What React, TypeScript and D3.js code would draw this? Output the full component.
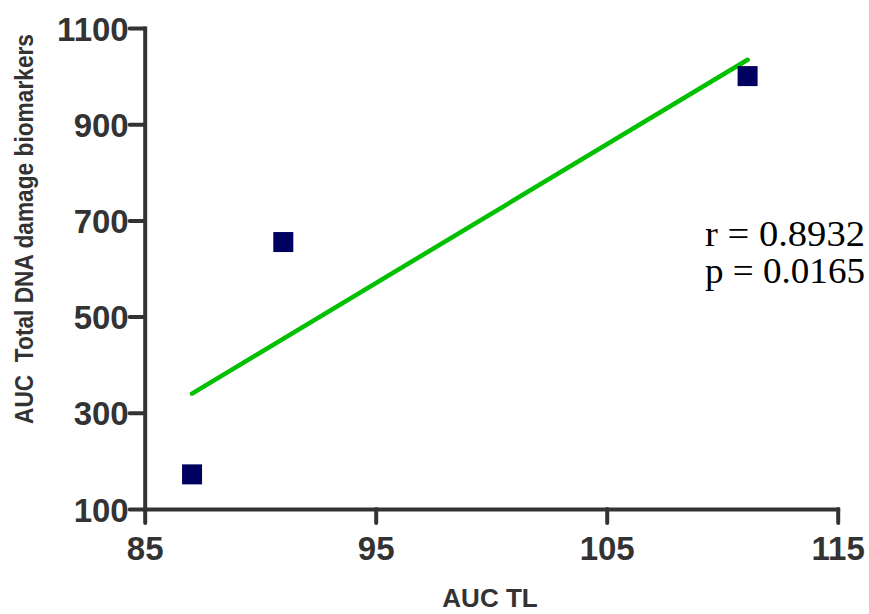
import React, { useEffect, useRef } from "react";
import * as d3 from "d3";

// data
const aucTL = [87.05, 91.0, 111.1];
const aucDNA = [172, 655, 1000];
const fitX = [87.05, 111.1];
const fitY = [340, 1034];
const xTicks = [85, 95, 105, 115];
const yTicks = [100, 300, 500, 700, 900, 1100];
const statLines = ["r = 0.8932", "p = 0.0165"];

const W = 869;
const H = 614;
const axisColor = "#333333";

const App = () => {
  const ref = useRef<SVGSVGElement>(null);

  useEffect(() => {
    const svg = d3.select(ref.current);
    svg.selectAll("*").remove();

    const x = d3.scaleLinear().domain([85, 115]).range([144.7, 837.7]);
    const y = d3.scaleLinear().domain([100, 1100]).range([509, 28]);

    // x axis
    const gx = svg
      .append("g")
      .attr("transform", `translate(0,${y(100)})`)
      .call(
        d3.axisBottom(x).tickValues(xTicks).tickFormat(d3.format("d")).tickSize(14).tickSizeOuter(0)
      );
    gx.select(".domain").attr("stroke", axisColor).attr("stroke-width", 4).attr("stroke-linecap", "square");
    gx.selectAll(".tick line").attr("stroke", axisColor).attr("stroke-width", 4).attr("stroke-linecap", "round");
    gx.selectAll(".tick text")
      .attr("fill", axisColor)
      .attr("dy", null)
      .attr("y", 51)
      .style("font-family", "'Liberation Sans', Arial, sans-serif")
      .style("font-weight", "bold")
      .style("font-size", "33px");

    // y axis
    const gy = svg
      .append("g")
      .attr("transform", `translate(${x(85)},0)`)
      .call(
        d3.axisLeft(y).tickValues(yTicks).tickFormat(d3.format("d")).tickSize(15).tickSizeOuter(0)
      );
    gy.select(".domain").attr("stroke", axisColor).attr("stroke-width", 4).attr("stroke-linecap", "square");
    gy.selectAll(".tick line").attr("stroke", axisColor).attr("stroke-width", 4).attr("stroke-linecap", "round");
    gy.selectAll(".tick text")
      .attr("fill", axisColor)
      .attr("x", -16)
      .attr("dy", null)
      .attr("y", 12)
      .style("font-family", "'Liberation Sans', Arial, sans-serif")
      .style("font-weight", "bold")
      .style("font-size", "33px");

    // axis titles
    svg
      .append("text")
      .attr("x", 490)
      .attr("y", 607)
      .attr("text-anchor", "middle")
      .attr("fill", axisColor)
      .style("font-family", "'Liberation Sans', Arial, sans-serif")
      .style("font-weight", "bold")
      .style("font-size", "26px")
      .text("AUC TL");

    svg
      .append("text")
      .attr("transform", "translate(33,229) rotate(-90)")
      .attr("text-anchor", "middle")
      .attr("fill", axisColor)
      .attr("textLength", 390)
      .attr("lengthAdjust", "spacingAndGlyphs")
      .style("font-family", "'Liberation Sans', Arial, sans-serif")
      .style("font-weight", "bold")
      .style("font-size", "25px")
      .style("white-space", "pre")
      .text("AUC  Total DNA damage biomarkers");

    // regression line
    svg
      .append("path")
      .datum(fitX.map((v, i) => [v, fitY[i]] as [number, number]))
      .attr("fill", "none")
      .attr("stroke", "#00c000")
      .attr("stroke-width", 4.5)
      .attr("stroke-linecap", "round")
      .attr("d", d3.line().x((d) => x(d[0])).y((d) => y(d[1])));

    // points
    svg
      .append("g")
      .selectAll("rect")
      .data(aucTL)
      .join("rect")
      .attr("x", (d) => x(d) - 10)
      .attr("y", (d, i) => y(aucDNA[i]) - 10)
      .attr("width", 20)
      .attr("height", 20)
      .attr("fill", "#000060");

    // stats
    svg
      .append("g")
      .selectAll("text")
      .data(statLines)
      .join("text")
      .attr("x", 705)
      .attr("y", (d, i) => 246 + i * 37)
      .attr("fill", "#000")
      .attr("textLength", 160)
      .attr("lengthAdjust", "spacingAndGlyphs")
      .style("font-family", "'Liberation Serif', 'Times New Roman', serif")
      .style("font-size", "35px")
      .text((d) => d);
  }, []);

  return (
    <svg
      ref={ref}
      width={W}
      height={H}
      style={{ position: "absolute", left: 0, top: 0, background: "#fff" }}
    />
  );
};

export default App;
